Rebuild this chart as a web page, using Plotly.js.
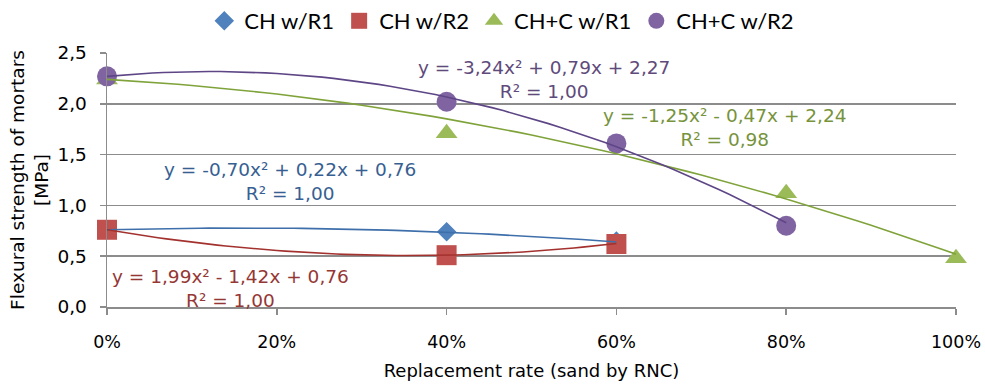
<!DOCTYPE html>
<html>
<head>
<meta charset="utf-8">
<script src="https://cdn.plot.ly/plotly-3.0.1.min.js"></script>
<style>html,body{margin:0;padding:0;background:#fff;}#chart{width:985px;height:389px;}</style>
</head>
<body>
<div id="chart"></div>
<script>
// Data
const seriesNames = ["CH w/R1", "CH w/R2", "CH+C w/R1", "CH+C w/R2"];
const xCH_R1 = [0, 0.4, 0.6];
const yCH_R1 = [0.76, 0.74, 0.65];
const xCH_R2 = [0, 0.4, 0.6];
const yCH_R2 = [0.76, 0.51, 0.62];
const xCHC_R1 = [0, 0.4, 0.8, 1.0];
const yCHC_R1 = [2.24, 1.71, 1.12, 0.48];
const xCHC_R2 = [0, 0.4, 0.6, 0.8];
const yCHC_R2 = [2.27, 2.02, 1.61, 0.80];

// Trendline coefficients as printed on the chart [a, b, c] for y = a x^2 + b x + c
const coefCH_R1 = [-0.70, 0.22, 0.76];
const coefCH_R2 = [1.99, -1.42, 0.76];
const coefCHC_R1 = [-1.25, -0.47, 2.24];
const coefCHC_R2 = [-3.24, 0.79, 2.27];

const eqLabels = [
  "y = -0,70x² + 0,22x + 0,76<br>R² = 1,00",
  "y = 1,99x² - 1,42x + 0,76<br>R² = 1,00",
  "y = -1,25x² - 0,47x + 2,24<br>R² = 0,98",
  "y = -3,24x² + 0,79x + 2,27<br>R² = 1,00"
];

const xTickVals = [0, 0.2, 0.4, 0.6, 0.8, 1.0];
const yTickVals = [0, 0.5, 1.0, 1.5, 2.0, 2.5];

const markerColors = ["#4F81BD", "#C0504D", "#9BBB59", "#8064A2"];
const lineColors = ["#3E6FAA", "#A3322F", "#7FA33A", "#5E4686"];
const textColors = ["#376092", "#953735", "#77933C", "#604A7B"];

function trend(coef, xs) {
  const x0 = xs[0], x1 = xs[xs.length - 1];
  const n = 60, tx = [], ty = [];
  for (let i = 0; i <= n; i++) {
    const x = x0 + (x1 - x0) * i / n;
    tx.push(x);
    ty.push(coef[0] * x * x + coef[1] * x + coef[2]);
  }
  return {tx, ty};
}

const xs = [xCH_R1, xCH_R2, xCHC_R1, xCHC_R2];
const ys = [yCH_R1, yCH_R2, yCHC_R1, yCHC_R2];
const coefs = [coefCH_R1, coefCH_R2, coefCHC_R1, coefCHC_R2];
const symbols = ["diamond", "square", "triangle-up", "circle"];
const sizes = [15, 20, 19, 20];

const traces = [];
for (let i = 0; i < 4; i++) {
  traces.push({
    x: xs[i], y: ys[i], type: "scatter", mode: "markers", name: seriesNames[i],
    marker: {symbol: symbols[i], size: sizes[i], color: markerColors[i], line: {width: 0}},
    cliponaxis: false
  });
}
for (let i = 0; i < 4; i++) {
  const t = trend(coefs[i], xs[i]);
  traces.push({
    x: t.tx, y: t.ty, type: "scatter", mode: "lines", showlegend: false, hoverinfo: "skip",
    line: {color: lineColors[i], width: 1.6, shape: "linear"}, cliponaxis: false
  });
}

const annPos = [[0.2155, 1.235], [0.146, 0.187], [0.727, 1.77], [0.515, 2.24]];
const annotations = eqLabels.map((t, i) => ({
  x: annPos[i][0], y: annPos[i][1], xref: "x", yref: "y", text: t, showarrow: false,
  xanchor: "center", yanchor: "middle", align: "center",
  font: {family: "DejaVu Sans, sans-serif", size: 18.5, color: textColors[i]}
}));

const layout = {
  width: 985, height: 389,
  margin: {l: 107, r: 29, t: 53, b: 82},
  paper_bgcolor: "#fff", plot_bgcolor: "#fff",
  separators: ",.",
  font: {family: "DejaVu Sans, sans-serif", size: 18, color: "#000"},
  showlegend: true,
  legend: {
    orientation: "h", x: 0.465, xanchor: "center", y: 1.0, yanchor: "top",
    yref: "container",
    font: {family: "Lato, sans-serif", size: 22, color: "#000"},
    itemwidth: 30, tracegroupgap: 0, bgcolor: "rgba(0,0,0,0)"
  },
  xaxis: {
    range: [0, 1], tickvals: xTickVals, tickformat: ".0%",
    showgrid: false, zeroline: false, showline: true, linecolor: "#8C8C8C", linewidth: 1.5,
    ticks: "outside", ticklen: 6, tickcolor: "#8C8C8C", tickwidth: 1.5,
    ticklabelstandoff: 12,
    tickfont: {family: "DejaVu Sans, sans-serif", size: 17.5, color: "#000"},
    title: {text: "Replacement rate (sand by RNC)", font: {family: "DejaVu Sans, sans-serif", size: 18, color: "#000"}, standoff: 14}
  },
  yaxis: {
    range: [0, 2.5], tickvals: yTickVals, tickformat: ".1f",
    showgrid: true, gridcolor: "#8C8C8C", gridwidth: 1.5, zeroline: false,
    showline: true, linecolor: "#8C8C8C", linewidth: 1.5,
    ticks: "outside", ticklen: 6, tickcolor: "#8C8C8C", tickwidth: 1.5,
    ticklabelstandoff: 9,
    tickfont: {family: "DejaVu Sans, sans-serif", size: 18.5, color: "#000"},
    title: {text: "Flexural strength of mortars<br>[MPa]", font: {family: "DejaVu Sans, sans-serif", size: 18.5, color: "#000"}, standoff: 4}
  },
  annotations: annotations
};

Plotly.newPlot("chart", traces, layout, {displayModeBar: false, staticPlot: true});
</script>
</body>
</html>
